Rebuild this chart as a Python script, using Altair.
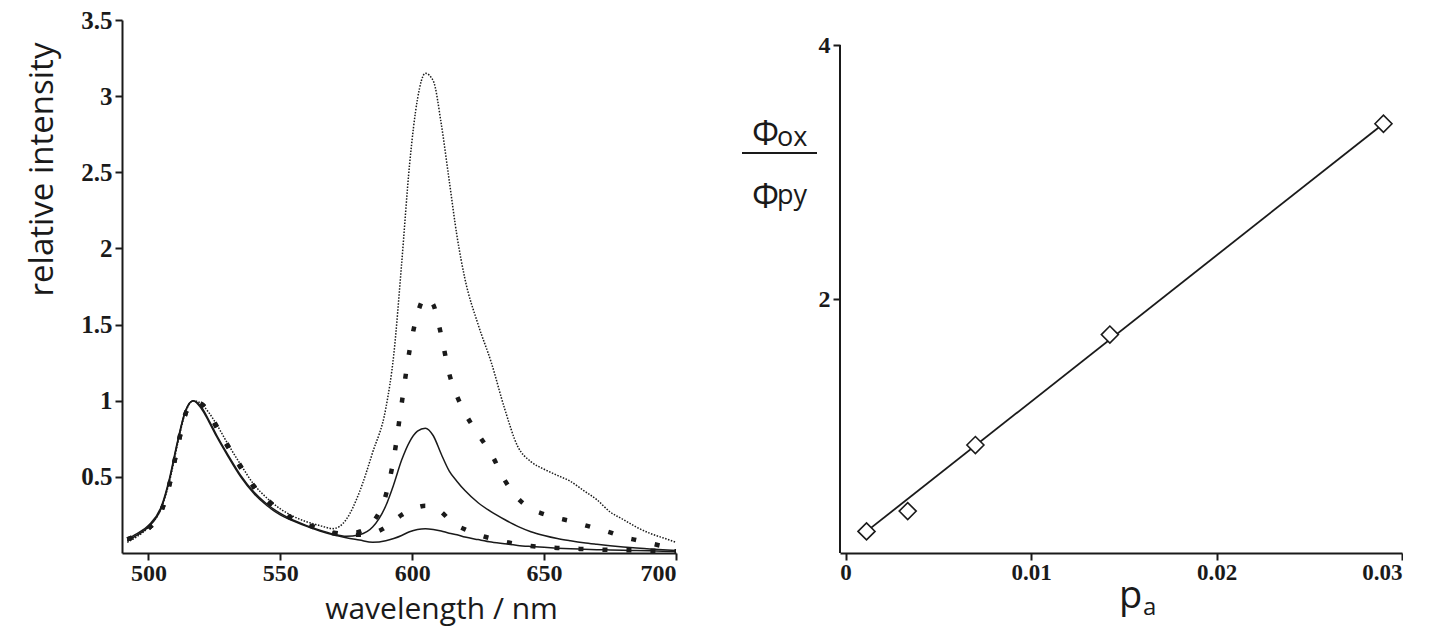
import altair as alt
import pandas as pd

# ---------------- left panel: emission spectra ----------------
wl = [492, 495, 500, 505, 508, 511, 514, 517, 520, 523,
      526, 530, 535, 540, 545, 550, 555, 560, 565, 570,
      575, 580, 585, 590, 593, 596, 599, 602, 605, 608,
      611, 614, 617, 620, 625, 630, 635, 640, 645, 650,
      655, 660, 665, 670, 675, 680, 685, 690, 695, 700]

curve_a = [0.08, 0.11, 0.17, 0.30, 0.48, 0.72, 0.93, 1.00, 0.95, 0.86,
           0.76, 0.64, 0.50, 0.39, 0.31, 0.25, 0.21, 0.175, 0.145, 0.12,
           0.10, 0.085, 0.07, 0.08, 0.095, 0.115, 0.14, 0.155, 0.16, 0.155,
           0.145, 0.13, 0.12, 0.105, 0.088, 0.072, 0.06, 0.05, 0.043, 0.037,
           0.032, 0.028, 0.025, 0.022, 0.02, 0.018, 0.016, 0.014, 0.012, 0.01]

curve_b = [0.09, 0.11, 0.16, 0.28, 0.45, 0.69, 0.91, 0.99, 0.98, 0.91,
           0.82, 0.70, 0.56, 0.43, 0.34, 0.27, 0.22, 0.185, 0.155, 0.13,
           0.12, 0.12, 0.13, 0.17, 0.21, 0.25, 0.28, 0.30, 0.31, 0.30,
           0.27, 0.22, 0.18, 0.155, 0.12, 0.095, 0.075, 0.058, 0.046, 0.038,
           0.033, 0.029, 0.026, 0.023, 0.021, 0.019, 0.017, 0.015, 0.013, 0.011]

curve_c = [0.09, 0.12, 0.18, 0.31, 0.49, 0.73, 0.93, 1.00, 0.96, 0.87,
           0.77, 0.65, 0.51, 0.40, 0.32, 0.26, 0.215, 0.18, 0.15, 0.125,
           0.11, 0.12, 0.17, 0.31, 0.45, 0.61, 0.73, 0.80, 0.82, 0.77,
           0.65, 0.54, 0.47, 0.41, 0.33, 0.27, 0.22, 0.175, 0.14, 0.115,
           0.095, 0.08, 0.067, 0.057, 0.048, 0.04, 0.033, 0.027, 0.021, 0.016]

curve_d = [0.09, 0.11, 0.16, 0.28, 0.45, 0.69, 0.91, 0.99, 0.98, 0.92,
           0.83, 0.71, 0.57, 0.44, 0.35, 0.28, 0.225, 0.19, 0.16, 0.135,
           0.125, 0.14, 0.20, 0.38, 0.62, 0.98, 1.33, 1.57, 1.68, 1.63,
           1.43, 1.18, 1.03, 0.92, 0.78, 0.65, 0.48, 0.36, 0.29, 0.255,
           0.23, 0.21, 0.185, 0.16, 0.135, 0.105, 0.085, 0.065, 0.045, 0.03]

curve_e = [0.07, 0.10, 0.17, 0.30, 0.47, 0.71, 0.92, 1.00, 0.98, 0.92,
           0.84, 0.72, 0.58, 0.45, 0.36, 0.29, 0.24, 0.205, 0.18, 0.16,
           0.22, 0.40, 0.66, 0.95, 1.30, 1.90, 2.55, 2.98, 3.15, 3.10,
           2.82, 2.45, 2.08, 1.80, 1.50, 1.25, 0.95, 0.70, 0.60, 0.55,
           0.51, 0.47, 0.41, 0.35, 0.27, 0.22, 0.17, 0.13, 0.10, 0.07]

x_ticks_left = [500, 550, 600, 650, 700]
y_ticks_left = [0.5, 1, 1.5, 2, 2.5, 3, 3.5]

# ---------------- right panel: ratio vs p_a ----------------
pa = [0.00113, 0.00335, 0.0070, 0.01425, 0.0290]
ratio = [0.17, 0.33, 0.85, 1.72, 3.38]
fit_x = [0.00113, 0.0290]
fit_y = [0.17, 3.38]
x_ticks_right = [0, 0.01, 0.02, 0.03]
y_ticks_right = [2, 4]

INK = "#1a1a1a"
SANS = "Open Sans"
SERIF = "Liberation Serif"

def curve_df(vals):
    return pd.DataFrame({"wl": wl, "v": vals})

xL = alt.X("wl:Q", scale=alt.Scale(domain=[490, 700], nice=False, zero=False),
           axis=alt.Axis(values=x_ticks_left, title="wavelength / nm",
                         titleX=319, titleY=65, titleAlign="center",
                         titleBaseline="alphabetic", titleFont=SANS,
                         titleFontSize=30, titleFontWeight="normal",
                         labelFont=SERIF, labelFontSize=24, labelPadding=1,
                         labelFontWeight="bold", format="d"))
yL = alt.Y("v:Q", scale=alt.Scale(domain=[0, 3.5], nice=False),
           axis=alt.Axis(values=y_ticks_left, title="relative intensity",
                         titleX=-80, titleY=149, titleAngle=270,
                         titleAlign="center", titleBaseline="middle",
                         titleFont=SANS, titleFontSize=33,
                         titleFontWeight="normal", labelFont=SERIF,
                         labelFontSize=25, labelFontWeight="bold",
                         labelPadding=3, format="~g"))

def solid(vals):
    return alt.Chart(curve_df(vals)).mark_line(
        color=INK, strokeWidth=1.5, interpolate="monotone").encode(x=xL, y=yL)

def heavy_dash(vals):
    return alt.Chart(curve_df(vals)).mark_line(
        color=INK, strokeWidth=4.5, strokeDash=[5, 19], strokeCap="butt",
        interpolate="monotone").encode(x=xL, y=yL)

def dotted(vals):
    return alt.Chart(curve_df(vals)).mark_line(
        color=INK, strokeWidth=1.5, strokeDash=[1.5, 1.5],
        interpolate="monotone").encode(x=xL, y=yL)

left = alt.layer(
    solid(curve_a), heavy_dash(curve_b), solid(curve_c),
    heavy_dash(curve_d), dotted(curve_e)
).properties(width=554, height=533)

# right panel
Y_TOP = 4 * 533 / 508
xR = alt.X("pa:Q", scale=alt.Scale(domain=[-0.0003, 0.03], nice=False, zero=False),
           axis=alt.Axis(values=x_ticks_right, title=None, format=".2~f",
                         labelFont=SERIF, labelFontSize=23,
                         labelFontWeight="bold", labelPadding=1))
yR = alt.Y("r:Q", scale=alt.Scale(domain=[0, Y_TOP], nice=False),
           axis=alt.Axis(values=y_ticks_right, title=None, domain=False,
                         format="d", labelFont=SERIF, labelFontSize=24,
                         labelFontWeight="bold", labelPadding=3))

pts_df = pd.DataFrame({"pa": pa, "r": ratio})
fit_df = pd.DataFrame({"pa": fit_x, "r": fit_y})
one = pd.DataFrame({"k": [0]})

fit_line = alt.Chart(fit_df).mark_line(color=INK, strokeWidth=1.8).encode(x=xR, y=yR)
points = alt.Chart(pts_df).mark_point(
    shape="diamond", size=290, filled=True, fill="white", stroke=INK,
    strokeWidth=1.6, opacity=1).encode(x=xR, y=yR)
yaxis_line = alt.Chart(one).mark_rule(color=INK, strokeWidth=2).encode(
    x=alt.value(0), y=alt.datum(0, type="quantitative"),
    y2=alt.datum(4))

def label(text, x, y, size, align="left", font=SANS):
    return alt.Chart(one).mark_text(
        text=text, font=font, fontSize=size, align=align,
        baseline="alphabetic", color=INK).encode(x=alt.value(x), y=alt.value(y))

frac_rule = alt.Chart(one).mark_rule(color=INK, strokeWidth=2).encode(
    x=alt.value(-98), x2=alt.value(-23), y=alt.value(133))

right = alt.layer(
    fit_line, points, yaxis_line,
    label("Φ", -88, 125, 34), label("ox", -63, 126, 27),
    frac_rule,
    label("Φ", -88, 188, 34), label("py", -63, 184, 27),
    label("p", 279, 588, 38), label("a", 303, 595, 24),
).properties(width=562, height=533)

chart = alt.hconcat(left, right, spacing=56).properties(
    padding={"left": 18, "top": 0, "right": 0, "bottom": 2},
    background="white"
).configure_view(stroke=None).configure_axis(
    grid=False, domainColor=INK, domainWidth=2, tickColor=INK, tickWidth=2,
    tickSize=7, labelColor=INK, titleColor=INK
)

chart.save("out.html", embed_options={"renderer": "svg", "actions": False})
